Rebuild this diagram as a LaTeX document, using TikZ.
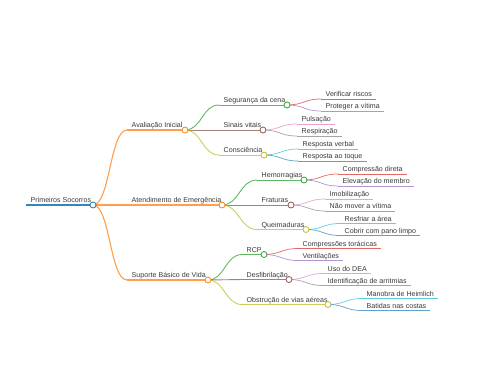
\documentclass[tikz,border=0pt]{standalone}
\usepackage{fontspec}
\setmainfont{Liberation Sans}
\usetikzlibrary{calc}
\definecolor{c0}{HTML}{1F77B4}
\definecolor{c1}{HTML}{FF7F0E}
\definecolor{c2}{HTML}{2CA02C}
\definecolor{c3}{HTML}{D62728}
\definecolor{c4}{HTML}{9467BD}
\definecolor{c5}{HTML}{8C564B}
\definecolor{c6}{HTML}{E377C2}
\definecolor{c7}{HTML}{7F7F7F}
\definecolor{c8}{HTML}{BCBD22}
\definecolor{c9}{HTML}{17BECF}
\newcommand\mmlink[3]{%
  \draw[#1] let \p1=(#2), \p2=(#3) in (\p1) .. controls ({0.5*\x1+0.5*\x2},\y1) and ({0.5*\x1+0.5*\x2},\y2) .. (\p2);}
\newcommand\mminner[7]{% id, parent, opts, x, y, dotx, text
  \coordinate (s#1) at (#4,#5);
  \coordinate (p#1) at (#6,#5);
  \node[lbl] (t#1) at ({#4+4.5},{#5-2.5}) {#7};
  \draw[#3] (s#1) -- (p#1);
  \mmlink{#3}{p#2}{s#1}}
\newcommand\mmleaf[6]{% id, parent, opts, x, y, text
  \coordinate (s#1) at (#4,#5);
  \node[lbl] (t#1) at ({#4+4.5},{#5-2.5}) {#6};
  \coordinate (e#1) at ($(t#1.base east)+(4,2.5)$);
  \draw[#3] (s#1) -- (e#1);
  \mmlink{#3}{p#2}{s#1}}
\begin{document}
\begin{tikzpicture}[x=1pt,y=-1pt,
  lbl/.style={anchor=base west, inner sep=0pt, font=\fontsize{7.1}{8}\selectfont, text=black!78},
  dot/.style={circle, fill=white, inner sep=0pt, minimum size=6pt, line width=0.8pt},
  l0/.style={line width=1.4pt, draw opacity=0.9},
  l1/.style={line width=1.1pt, draw opacity=0.75},
  l2/.style={line width=0.9pt, draw opacity=0.75},
  l3/.style={line width=0.7pt, draw opacity=0.7}]
\useasboundingbox (0,0) rectangle (480,384);
% root
\coordinate (s0) at (26,205);
\coordinate (p0) at (93,205);
\node[lbl] (t0) at (30.5,202.5) {Primeiros Socorros};
\draw[c0,l0] (s0) -- (p0);
% level 1
\mminner{A}{0}{c1,l1}{127}{130}{185}{Avaliação Inicial}
\mminner{B}{0}{c1,l1}{127}{205}{222}{Atendimento de Emergência}
\mminner{C}{0}{c1,l1}{127}{280}{208}{Suporte Básico de Vida}
% level 2
\mminner{A1}{A}{c2,l2}{219}{105}{287}{Segurança da cena}
\mminner{A2}{A}{c5,l2}{219}{130}{263}{Sinais vitais}
\mminner{A3}{A}{c8,l2}{219}{155}{264}{Consciência}
\mminner{B1}{B}{c2,l2}{257}{180}{304}{Hemorragias}
\mminner{B2}{B}{c5,l2}{257}{205}{291}{Fraturas}
\mminner{B3}{B}{c8,l2}{257}{229.5}{306}{Queimaduras}
\mminner{C1}{C}{c2,l2}{242}{254.5}{264}{RCP}
\mminner{C2}{C}{c5,l2}{242}{279.5}{289}{Desfibrilação}
\mminner{C3}{C}{c8,l2}{242}{304.5}{328}{Obstrução de vias aéreas}
% level 3
\mmleaf{A1a}{A1}{c3,l3}{321}{99}{Verificar riscos}
\mmleaf{A1b}{A1}{c4,l3}{321}{111}{Proteger a vítima}
\mmleaf{A2a}{A2}{c6,l3}{297}{124}{Pulsação}
\mmleaf{A2b}{A2}{c7,l3}{297}{136}{Respiração}
\mmleaf{A3a}{A3}{c9,l3}{298}{149}{Resposta verbal}
\mmleaf{A3b}{A3}{c0,l3}{298}{161}{Resposta ao toque}
\mmleaf{B1a}{B1}{c3,l3}{338}{174}{Compressão direta}
\mmleaf{B1b}{B1}{c4,l3}{338}{186}{Elevação do membro}
\mmleaf{B2a}{B2}{c6,l3}{325}{199}{Imobilização}
\mmleaf{B2b}{B2}{c7,l3}{325}{211}{Não mover a vítima}
\mmleaf{B3a}{B3}{c9,l3}{340}{223.5}{Resfriar a área}
\mmleaf{B3b}{B3}{c0,l3}{340}{235.5}{Cobrir com pano limpo}
\mmleaf{C1a}{C1}{c3,l3}{298}{248.5}{Compressões torácicas}
\mmleaf{C1b}{C1}{c4,l3}{298}{260.5}{Ventilações}
\mmleaf{C2a}{C2}{c6,l3}{323}{273.5}{Uso do DEA}
\mmleaf{C2b}{C2}{c7,l3}{323}{285.5}{Identificação de arritmias}
\mmleaf{C3a}{C3}{c9,l3}{362}{298.5}{Manobra de Heimlich}
\mmleaf{C3b}{C3}{c0,l3}{362}{310.5}{Batidas nas costas}
% dots
\node[dot,draw=c0] (d0) at (p0) {};
\node[dot,draw=c1] (dA) at (pA) {};
\node[dot,draw=c1] (dB) at (pB) {};
\node[dot,draw=c1] (dC) at (pC) {};
\node[dot,draw=c2] (dA1) at (pA1) {};
\node[dot,draw=c5] (dA2) at (pA2) {};
\node[dot,draw=c8] (dA3) at (pA3) {};
\node[dot,draw=c2] (dB1) at (pB1) {};
\node[dot,draw=c5] (dB2) at (pB2) {};
\node[dot,draw=c8] (dB3) at (pB3) {};
\node[dot,draw=c2] (dC1) at (pC1) {};
\node[dot,draw=c5] (dC2) at (pC2) {};
\node[dot,draw=c8] (dC3) at (pC3) {};
\end{tikzpicture}
\end{document}
